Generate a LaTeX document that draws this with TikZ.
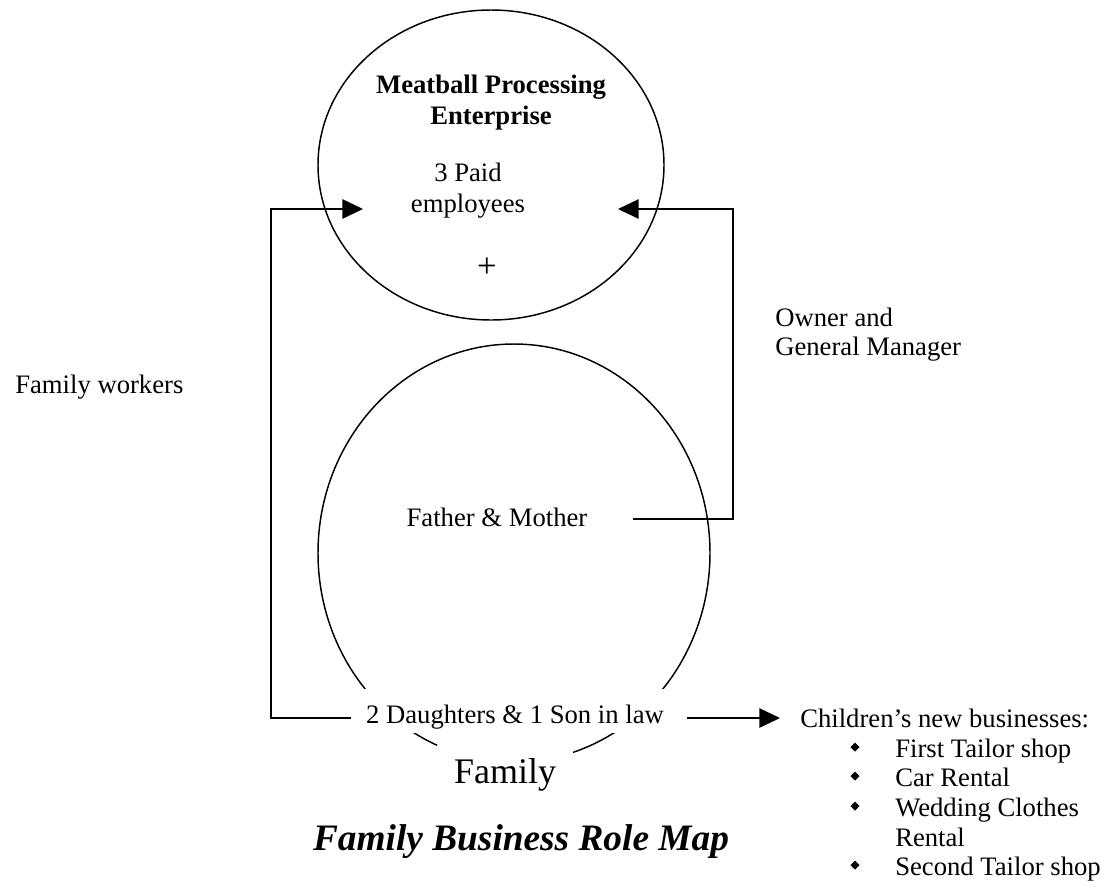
\documentclass[tikz,border=0pt]{standalone}
\usepackage{fontspec}
\setmainfont{Liberation Serif}
\usetikzlibrary{arrows.meta,shapes.geometric}
\tikzset{>={Triangle[length=15.5pt,width=14.5pt]}}

\begin{document}
\begin{tikzpicture}[x=0.75pt,y=-0.75pt,
    txt/.style={font=\fontsize{20}{22}\selectfont,inner sep=0pt,anchor=base},
    oval/.style={draw,ellipse,line width=1.1pt,inner sep=0pt},
    conn/.style={line width=1.3pt},
    wbox/.style={fill=white,inner ysep=0pt}]
  \useasboundingbox (0,0) rectangle (1117,886); % page size in px
  % the two ovals
  \node[oval,minimum width=259.5pt,minimum height=232.5pt] (ent) at (491,165) {};
  \node[oval,minimum width=294pt,minimum height=313.5pt] (fam) at (514,553) {};
  % enterprise text
  \node[txt,font=\fontsize{20}{22}\selectfont\bfseries] (entA) at (491,93) {Meatball Processing};
  \node[txt,font=\fontsize{20}{22}\selectfont\bfseries] (entB) at (491,124) {Enterprise};
  \node[txt] (paidA) at (468,181) {3 Paid};
  \node[txt] (paidB) at (468,212) {employees};
  \node[txt,font=\fontsize{26}{28}\selectfont,anchor=center] (plus) at (487,268) {+};
  % family text
  \node[txt] (parents) at (497,526) {Father \& Mother};
  \node[txt,wbox,inner xsep=11.25pt,text height=25.5pt,text depth=7.5pt] (kids) at (515,723)
    {2 Daughters \& 1 Son in law}; % white box cuts the oval
  \node[txt,wbox,font=\fontsize{27}{30}\selectfont,inner xsep=13pt,text height=28.5pt,text depth=8pt]
    (family) at (505,783) {Family};
  % side labels
  \node[txt,anchor=base west] (workers) at (15,393) {Family workers};
  \node[txt,anchor=base west] (ownA) at (775,326) {Owner and};
  \node[txt,anchor=base west] (ownB) at (775,355) {General Manager};
  % new businesses list
  \node[txt,anchor=base west] (biz) at (800,727) {Children’s new businesses:};
  \foreach \y/\t [count=\i] in {757/First Tailor shop,786/Car Rental,816/Wedding Clothes,875/Second Tailor shop}{
    \fill (855,\y-14.5) -- (859.5,\y-10) -- (855,\y-5.5) -- (850.5,\y-10) -- cycle; % bullet
    \node[txt,anchor=base west] (item\i) at (895,\y) {\t};
  }
  \node[txt,anchor=base west] (item3b) at (895,846) {Rental};
  % title
  \node[txt,font=\fontsize{28}{32}\selectfont\bfseries\itshape] (title) at (521,850) {Family Business Role Map};
  % connectors
  \coordinate (fwtip) at (363,209); % arrow into enterprise, left
  \coordinate (ogtip) at (618,209); % arrow into enterprise, right
  \coordinate (kr) at ([yshift=-5.25pt]kids.east);
  \draw[conn,->] ([yshift=-5.25pt]kids.west) -- ++(-80,0) |- (fwtip);
  \draw[conn,->] ([xshift=34pt,yshift=-1.5pt]parents.east) -| (733,209) -- (ogtip);
  \draw[conn,->,shorten >=15pt] ([xshift=6pt]kr) -- (kr -| biz.west);
\end{tikzpicture}
\end{document}
